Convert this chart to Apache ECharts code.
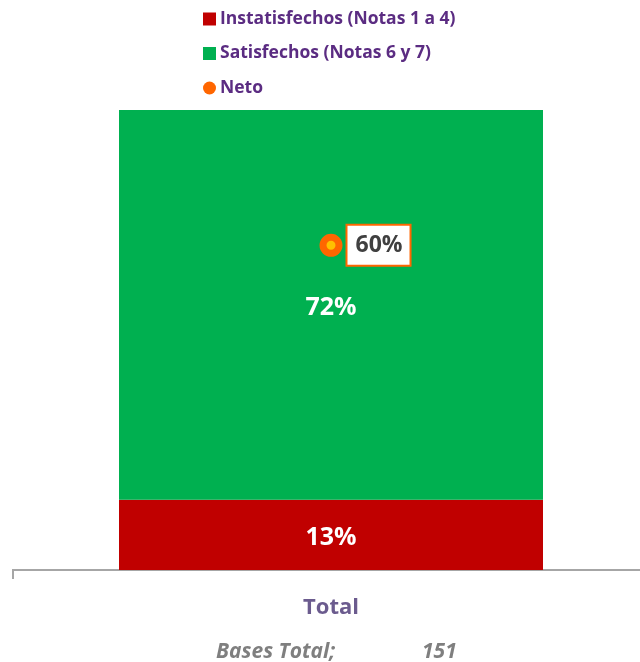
<!DOCTYPE html>
<html><head><meta charset="utf-8">
<script src="https://cdn.jsdelivr.net/npm/echarts@6/dist/echarts.min.js"></script>
<style>html,body{margin:0;padding:0;background:#fff}#c{width:640px;height:662px}</style>
</head><body><div id="c"></div>
<script>
const categories = ['Total'];
const instatisfechos = [13];
const satisfechos = [72];
const neto = [60];
const baseLabel = 'Bases Total;';
const baseValue = '151';

const chart = echarts.init(document.getElementById('c'));
const FONT = 'Open Sans';
const AX = '#A6A6A6';
chart.setOption({
  animation: false,
  grid: { left: 22, right: 0, top: 110, bottom: 92 },
  legend: {
    orient: 'vertical', left: 198, top: 5, itemGap: 16.5,
    itemWidth: 13, itemHeight: 13,
    textStyle: { color: '#5B2C82', fontFamily: FONT, fontWeight: 'bold', fontSize: 17.5, padding: [0,0,0,-1] },
    data: [
      { name: 'Instatisfechos (Notas 1 a 4)', icon: 'rect' },
      { name: 'Satisfechos (Notas 6 y 7)', icon: 'rect' },
      { name: 'Neto', icon: 'circle', itemStyle: { color: '#FF6600', borderColor: '#FF6600', borderWidth: 0 } }
    ]
  },
  xAxis: {
    type: 'category', data: categories,
    axisLine: { lineStyle: { color: AX, width: 2 } },
    axisTick: { show: false },
    axisLabel: { margin: 27, color: '#6B5B8E', fontFamily: FONT, fontWeight: 'bold', fontSize: 22 }
  },
  yAxis: { type: 'value', min: 0, max: 85, show: false, splitLine: { show: false } },
  series: [
    { name: 'Instatisfechos (Notas 1 a 4)', type: 'bar', stack: 's', data: instatisfechos, barWidth: 424,
      itemStyle: { color: '#C00000' },
      label: { show: true, position: 'inside', offset: [0, 3], formatter: '{c}%', color: '#fff', fontFamily: FONT, fontWeight: 'bold', fontSize: 25 } },
    { name: 'Satisfechos (Notas 6 y 7)', type: 'bar', stack: 's', data: satisfechos, barWidth: 424,
      itemStyle: { color: '#00B050' },
      label: { show: true, position: 'inside', offset: [0, 3], formatter: '{c}%', color: '#fff', fontFamily: FONT, fontWeight: 'bold', fontSize: 25 } },
    { name: 'Neto', type: 'line', data: neto, symbol: 'circle', symbolSize: 16, z: 5,
      lineStyle: { width: 0 },
      itemStyle: { color: '#FFC000', borderColor: '#FF6600', borderWidth: 7 },
      label: { show: true, position: 'right', distance: 5, formatter: '{c}%', color: '#404040',
        fontFamily: FONT, fontWeight: 'bold', fontSize: 23, backgroundColor: '#fff',
        borderColor: '#FF6600', borderWidth: 2, padding: [9, 7, 7, 8] } }
  ],
  graphic: [
    { type: 'line', shape: { x1: 12, y1: 570, x2: 23, y2: 570 }, style: { stroke: AX, lineWidth: 2 } },
    { type: 'line', shape: { x1: 13, y1: 569, x2: 13, y2: 579 }, style: { stroke: AX, lineWidth: 2 } },
    { type: 'text', left: 216, top: 642, style: { text: baseLabel, fill: '#7F7F7F', font: 'italic bold 21px "Open Sans"' } },
    { type: 'text', left: 422, top: 642, style: { text: baseValue, fill: '#7F7F7F', font: 'italic bold 21px "Open Sans"' } }
  ]
});
</script></body></html>
